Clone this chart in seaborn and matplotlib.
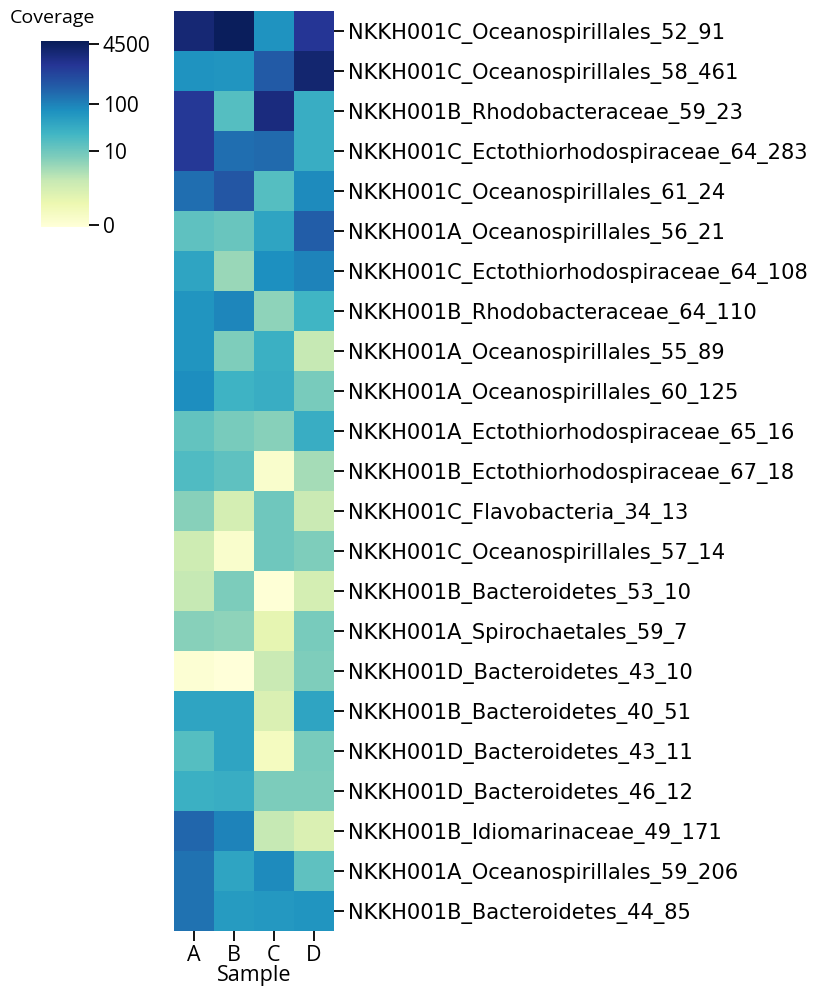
import numpy as np
import pandas as pd
import matplotlib
matplotlib.use("Agg")
import matplotlib.pyplot as plt
import seaborn as sns

# Contig names (rows) and samples (columns)
contigs = [
    "NKKH001C_Oceanospirillales_52_91",
    "NKKH001C_Oceanospirillales_58_461",
    "NKKH001B_Rhodobacteraceae_59_23",
    "NKKH001C_Ectothiorhodospiraceae_64_283",
    "NKKH001C_Oceanospirillales_61_24",
    "NKKH001A_Oceanospirillales_56_21",
    "NKKH001C_Ectothiorhodospiraceae_64_108",
    "NKKH001B_Rhodobacteraceae_64_110",
    "NKKH001A_Oceanospirillales_55_89",
    "NKKH001A_Oceanospirillales_60_125",
    "NKKH001A_Ectothiorhodospiraceae_65_16",
    "NKKH001B_Ectothiorhodospiraceae_67_18",
    "NKKH001C_Flavobacteria_34_13",
    "NKKH001C_Oceanospirillales_57_14",
    "NKKH001B_Bacteroidetes_53_10",
    "NKKH001A_Spirochaetales_59_7",
    "NKKH001D_Bacteroidetes_43_10",
    "NKKH001B_Bacteroidetes_40_51",
    "NKKH001D_Bacteroidetes_43_11",
    "NKKH001D_Bacteroidetes_46_12",
    "NKKH001B_Idiomarinaceae_49_171",
    "NKKH001A_Oceanospirillales_59_206",
    "NKKH001B_Bacteroidetes_44_85",
]
samples = ["A", "B", "C", "D"]

# coverage on the colour-bar scale (0 = no coverage, 1 = max)
cov_a = [0.94, 0.62, 0.86, 0.86, 0.71, 0.44, 0.56, 0.61, 0.61, 0.63, 0.43, 0.47,
         0.36, 0.23, 0.25, 0.36, 0.02, 0.56, 0.46, 0.52, 0.73, 0.70, 0.70]
cov_b = [0.99, 0.61, 0.46, 0.71, 0.77, 0.42, 0.33, 0.65, 0.375, 0.51, 0.39, 0.44,
         0.21, 0.04, 0.38, 0.35, 0.0, 0.56, 0.56, 0.53, 0.66, 0.56, 0.59]
cov_c = [0.62, 0.76, 0.92, 0.72, 0.46, 0.56, 0.625, 0.35, 0.52, 0.53, 0.36, 0.04,
         0.41, 0.41, 0.01, 0.15, 0.24, 0.19, 0.08, 0.38, 0.25, 0.64, 0.60]
cov_d = [0.87, 0.95, 0.53, 0.53, 0.64, 0.75, 0.66, 0.50, 0.25, 0.39, 0.53, 0.31,
         0.24, 0.375, 0.21, 0.39, 0.375, 0.56, 0.39, 0.38, 0.19, 0.44, 0.61]

# colour-bar tick labels and where they sit on the scale
cbar_labels = ["0", "10", "100", "4500"]
cbar_pos = [0.01, 0.41, 0.66, 0.985]

df = pd.DataFrame({"A": cov_a, "B": cov_b, "C": cov_c, "D": cov_d}, index=contigs)
df.columns.name = "Sample"

plt.rcParams["font.family"] = ["DejaVu Sans"]
fig = plt.figure(figsize=(8.17, 9.88), dpi=100)
ax = fig.add_axes([174 / 817, 1 - 931 / 988, 160 / 817, 920 / 988])
cax = fig.add_axes([41 / 817, 1 - 227 / 988, 48 / 817, 186 / 988])

sns.heatmap(df, ax=ax, cbar_ax=cax, cmap="YlGnBu", vmin=0, vmax=1,
            cbar_kws={"ticks": cbar_pos})

ax.yaxis.tick_right()
ax.set_yticks(np.arange(len(contigs)) + 0.5)
ax.set_yticklabels(contigs, rotation=0, fontsize=15.1)
ax.set_xticklabels(samples, rotation=0, fontsize=15.5, family="Open Sans")
ax.set_xlabel("Sample", fontsize=15.5, family="Open Sans", labelpad=-1)
ax.set_ylabel("")
ax.tick_params(axis="both", length=7, width=1.3, pad=3)

cax.set_yticklabels(cbar_labels, fontsize=15, family="Open Sans")
cax.tick_params(length=7, width=1.3, pad=3)
fig.text(10 / 817, 1 - 18 / 988, "Coverage", fontsize=14, family="Open Sans",
         va="center", ha="left")

fig.savefig("out.png", dpi=100)
